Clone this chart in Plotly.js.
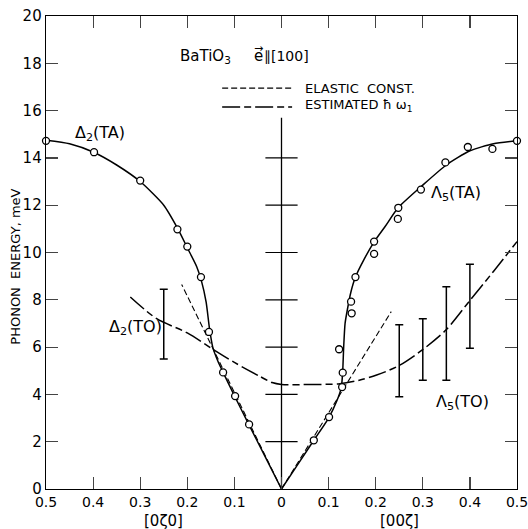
<!DOCTYPE html>
<html>
<head>
<meta charset="utf-8">
<script src="https://cdn.plot.ly/plotly-3.0.1.min.js"></script>
<style>html,body{margin:0;padding:0;background:#fff;}#chart{width:528px;height:529px;}</style>
</head>
<body>
<div id="chart"></div>
<script>
// Left branch [0ζ0] is plotted at negative x (displayed as positive ζ)
const taLeftX = [-0.5, -0.398, -0.300, -0.221, -0.200, -0.171, -0.154, -0.124, -0.0985, -0.0688];
const taLeftY = [14.72, 14.24, 13.04, 10.98, 10.25, 8.96, 6.64, 4.93, 3.93, 2.73];
const taRightX = [0.0686, 0.101, 0.1287, 0.130, 0.1223, 0.149, 0.1477, 0.157, 0.1966, 0.1966, 0.247, 0.248, 0.296, 0.348, 0.3956, 0.4478, 0.5];
const taRightY = [2.06, 3.04, 4.31, 4.92, 5.91, 7.43, 7.92, 8.96, 9.94, 10.46, 11.42, 11.89, 12.66, 13.81, 14.46, 14.38, 14.72];

const taCurveLX = [-0.5, -0.45, -0.4, -0.35, -0.3, -0.25, -0.22, -0.2, -0.18, -0.17, -0.16, -0.153, -0.146, -0.135, -0.124, -0.1, -0.07, -0.035, 0];
const taCurveLY = [14.75, 14.6, 14.25, 13.7, 13.0, 12.0, 11.0, 10.2, 9.4, 8.8, 7.9, 6.8, 6.0, 5.4, 4.93, 3.95, 2.75, 1.38, 0];
const taCurveRX = [0, 0.035, 0.0686, 0.1, 0.118, 0.127, 0.130, 0.132, 0.135, 0.140, 0.147, 0.157, 0.175, 0.197, 0.22, 0.248, 0.3, 0.35, 0.4, 0.45, 0.5];
const taCurveRY = [0, 1.05, 2.06, 3.0, 3.75, 4.3, 5.0, 6.0, 7.0, 7.6, 8.3, 8.96, 9.7, 10.46, 11.1, 11.9, 12.85, 13.7, 14.3, 14.6, 14.72];

const elasticLX = [0, -0.212];
const elasticLY = [0, 8.65];
const elasticRX = [0, 0.233];
const elasticRY = [0, 7.5];

const toCurveX = [-0.321, -0.265, -0.2, -0.145, -0.1, -0.045, -0.02, 0, 0.06, 0.124, 0.165, 0.202, 0.248, 0.299, 0.349, 0.398, 0.45, 0.5];
const toCurveY = [8.12, 7.2, 6.6, 5.9, 5.35, 4.75, 4.5, 4.42, 4.42, 4.45, 4.6, 4.82, 5.2, 5.88, 6.72, 7.92, 9.2, 10.46];

const toErrX = [-0.25, 0.25, 0.30, 0.35, 0.40];
const toErrLow = [5.5, 3.9, 4.6, 4.6, 5.95];
const toErrHigh = [8.45, 6.95, 7.2, 8.55, 9.5];

const xTickVals = [-0.5, -0.4, -0.3, -0.2, -0.1, 0, 0.1, 0.2, 0.3, 0.4, 0.5];
const xTickText = ["0.5", "0.4", "0.3", "0.2", "0.1", "0", "0.1", "0.2", "0.3", "0.4", "0.5"];
const yTickVals = [0, 2, 4, 6, 8, 10, 12, 14, 16, 18, 20];
const centerTickY = [2, 4, 6, 8, 10, 12, 14];
const centerLineTop = 15.7;

const FONT = "DejaVu Sans, sans-serif";
const errMid = toErrX.map((_, i) => (toErrLow[i] + toErrHigh[i]) / 2);
const errHalf = toErrX.map((_, i) => (toErrHigh[i] - toErrLow[i]) / 2);

const lineBase = {type: "scatter", mode: "lines", hoverinfo: "skip", showlegend: false};
const traces = [
  Object.assign({}, lineBase, {x: [0, 0], y: [0, centerLineTop], line: {color: "#000", width: 1.3}}),
  {type: "scatter", mode: "markers", x: centerTickY.map(() => 0), y: centerTickY, showlegend: false, hoverinfo: "skip",
   marker: {symbol: "line-ew-open", size: 23, color: "#000", line: {color: "#000", width: 1.2}}},
  Object.assign({}, lineBase, {x: elasticLX, y: elasticLY, line: {color: "#000", width: 1.1, dash: "6px,3px"}}),
  Object.assign({}, lineBase, {x: elasticRX, y: elasticRY, line: {color: "#000", width: 1.1, dash: "6px,3px"}}),
  Object.assign({}, lineBase, {x: toCurveX, y: toCurveY, line: {color: "#000", width: 1.5, dash: "18px,4px,7px,4px", shape: "spline", smoothing: 0.8}}),
  Object.assign({}, lineBase, {x: taCurveLX, y: taCurveLY, line: {color: "#000", width: 1.5, shape: "spline", smoothing: 0.6}}),
  Object.assign({}, lineBase, {x: taCurveRX, y: taCurveRY, line: {color: "#000", width: 1.5, shape: "spline", smoothing: 0.6}}),
  {type: "scatter", mode: "markers", x: toErrX, y: errMid, showlegend: false, hoverinfo: "skip",
   marker: {size: 1, color: "rgba(0,0,0,0)"},
   error_y: {type: "data", array: errHalf, visible: true, color: "#000", thickness: 1.5, width: 4}},
  {type: "scatter", mode: "markers", x: taLeftX, y: taLeftY, showlegend: false, hoverinfo: "skip", cliponaxis: false,
   marker: {symbol: "circle", size: 7, color: "#fff", line: {color: "#000", width: 1.3}}},
  {type: "scatter", mode: "markers", x: taRightX, y: taRightY, showlegend: false, hoverinfo: "skip", cliponaxis: false,
   marker: {symbol: "circle", size: 7, color: "#fff", line: {color: "#000", width: 1.3}}}
];

const ann = (x, y, text, extra) => Object.assign({x: x, y: y, xref: "x", yref: "y", text: text, showarrow: false,
  font: {family: FONT, size: 15, color: "#000"}}, extra || {});

const layout = {
  width: 528, height: 529,
  margin: {l: 46, r: 11, t: 16, b: 40},
  paper_bgcolor: "#fff", plot_bgcolor: "#fff",
  showlegend: false,
  font: {family: FONT, size: 14, color: "#000"},
  xaxis: {range: [-0.5, 0.5], tickvals: xTickVals, ticktext: xTickText, ticks: "inside", ticklen: 12, tickwidth: 1.2,
          showline: true, linecolor: "#000", linewidth: 1.3, mirror: "allticks", showgrid: false, zeroline: false,
          ticklabeloverflow: "allow", tickfont: {family: FONT, size: 14}},
  yaxis: {range: [0, 20], tickvals: yTickVals, ticks: "inside", ticklen: 12, tickwidth: 1.2,
          showline: true, linecolor: "#000", linewidth: 1.3, mirror: "allticks", showgrid: false, zeroline: false,
          tickfont: {family: FONT, size: 15}},
  shapes: [
    {type: "line", xref: "x", yref: "y", x0: -0.126, x1: 0.0225, y0: 16.95, y1: 16.95, line: {color: "#000", width: 1.1, dash: "6px,3px"}},
    {type: "line", xref: "x", yref: "y", x0: -0.126, x1: 0.0225, y0: 16.15, y1: 16.15, line: {color: "#000", width: 1.4, dash: "18px,4px,7px,4px"}}
  ],
  annotations: [
    ann(-0.162, 18.3, "BaTiO<sub>3</sub>", {font: {family: FONT, size: 15}}),
    ann(-0.062, 18.3, "e", {xanchor: "left", font: {family: FONT, size: 15}}),
    ann(-0.062, 18.62, "\u2192", {xanchor: "left", font: {family: FONT, size: 11}}),
    ann(-0.042, 18.3, "\u2225[100]", {xanchor: "left", font: {family: FONT, size: 14}}),
    ann(0.046, 16.95, "ELASTIC  CONST.", {xanchor: "left", font: {family: FONT, size: 13}}),
    ann(0.046, 16.2, "ESTIMATED ħ ω<sub>1</sub>", {xanchor: "left", font: {family: FONT, size: 13}}),
    ann(-0.385, 15.05, "Δ<sub>2</sub>(TA)", {font: {family: FONT, size: 16}}),
    ann(0.37, 12.5, "Λ<sub>5</sub>(TA)", {font: {family: FONT, size: 16}}),
    ann(-0.311, 6.85, "Δ<sub>2</sub>(TO)", {font: {family: FONT, size: 16}}),
    ann(0.385, 3.65, "Λ<sub>5</sub>(TO)", {font: {family: FONT, size: 16}}),
    {x: -0.25, y: 0, xref: "x", yref: "paper", yanchor: "top", yshift: -21, text: "[0ζ0]", showarrow: false, font: {family: FONT, size: 15}},
    {x: 0.25, y: 0, xref: "x", yref: "paper", yanchor: "top", yshift: -21, text: "[00ζ]", showarrow: false, font: {family: FONT, size: 15}},
    {x: 0, y: 0.47, xref: "paper", yref: "paper", xanchor: "center", yanchor: "middle", xshift: -30, text: "PHONON  ENERGY, meV", textangle: -90, showarrow: false, font: {family: FONT, size: 13}}
  ]
};

Plotly.newPlot("chart", traces, layout, {staticPlot: true, displayModeBar: false});
</script>
</body>
</html>
